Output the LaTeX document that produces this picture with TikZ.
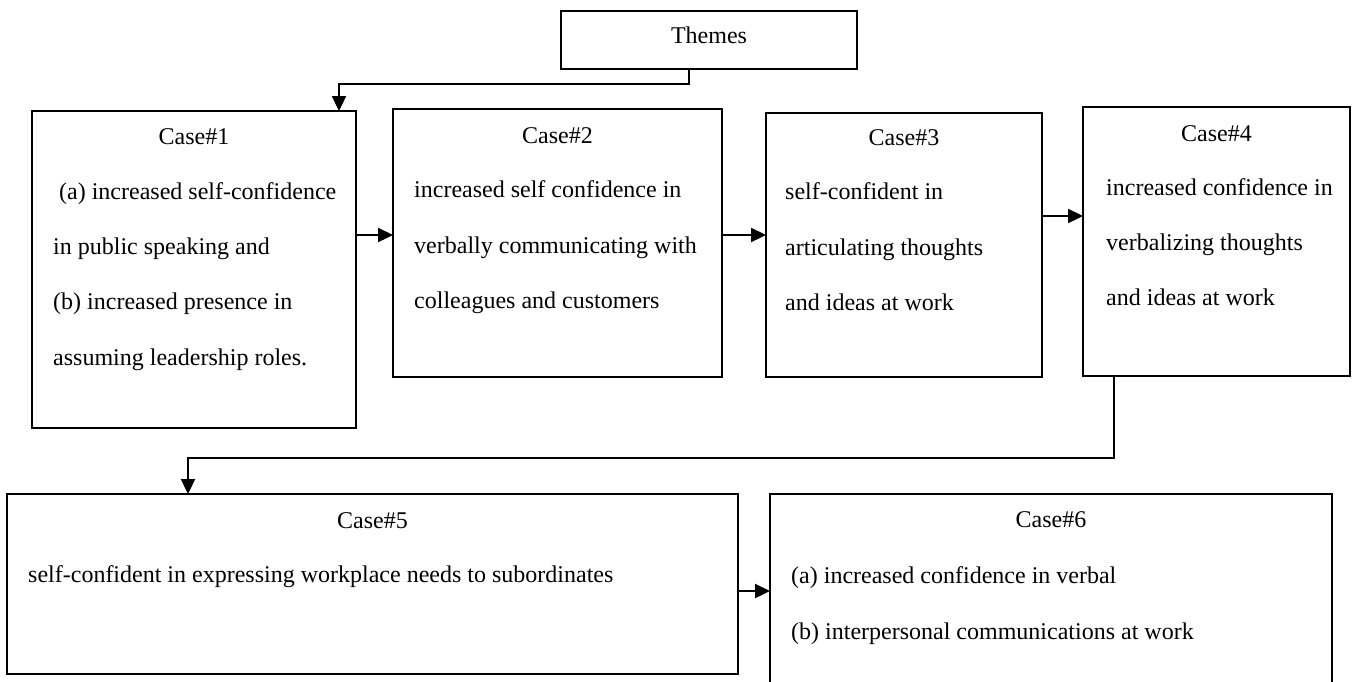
\documentclass[tikz,border=0pt]{standalone}
\usepackage{fontspec}
\setmainfont{Liberation Serif}
\usetikzlibrary{arrows.meta}
\begin{document}
\begin{tikzpicture}[x=1pt,y=-1pt,
  box/.style={draw, line width=1.7pt, rectangle, inner sep=0pt, outer sep=0pt},
  ttl/.style={anchor=base, inner sep=0pt, font=\fontsize{24}{28}\selectfont},
  txt/.style={anchor=base west, inner sep=0pt, font=\fontsize{24}{28}\selectfont},
  arr/.style={line width=2.3pt, -{Triangle[length=15pt,width=14pt]}}]
\clip (0,0) rectangle (1354,681);
\fill[white] (0,0) rectangle (1354,681);

% boxes
\node[box, minimum width=296pt, minimum height=58pt] (th) at (709,40) {};
\node[box, minimum width=324pt, minimum height=317pt] (c1) at (194,269.5) {};
\node[box, minimum width=329pt, minimum height=268pt] (c2) at (557.5,243) {};
\node[box, minimum width=276pt, minimum height=264pt] (c3) at (904,245) {};
\node[box, minimum width=267pt, minimum height=269pt] (c4) at (1216.5,241.5) {};
\node[box, minimum width=731pt, minimum height=180pt] (c5) at (372.5,584) {};
\node[box, minimum width=562pt, minimum height=200pt] (c6) at (1051,594) {};

% titles
\node[ttl] (tht) at (709,43) {Themes};
\node[ttl] (c1t) at (194,144) {Case\#1};
\node[ttl] (c2t) at (557.5,143) {Case\#2};
\node[ttl] (c3t) at (904,145) {Case\#3};
\node[ttl] (c4t) at (1216.5,141) {Case\#4};
\node[ttl] (c5t) at (372.5,528) {Case\#5};
\node[ttl] (c6t) at (1051,527) {Case\#6};

% case texts
\node[txt] (c1a) at (53,199) {\ (a) increased self-confidence};
\node[txt] (c1b) at (53,254) {in public speaking and};
\node[txt] (c1c) at (53,309) {(b) increased presence in};
\node[txt] (c1d) at (53,365) {assuming leadership roles.};

\node[txt] (c2a) at (414,197) {increased self confidence in};
\node[txt] (c2b) at (414,253) {verbally communicating with};
\node[txt] (c2c) at (414,308) {colleagues and customers};

\node[txt] (c3a) at (785,199) {self-confident in};
\node[txt] (c3b) at (785,255) {articulating thoughts};
\node[txt] (c3c) at (785,310) {and ideas at work};

\node[txt] (c4a) at (1106,195) {increased confidence in};
\node[txt] (c4b) at (1106,250) {verbalizing thoughts};
\node[txt] (c4c) at (1106,305) {and ideas at work};

\node[txt] (c5a) at (28,582) {self-confident in expressing workplace needs to subordinates};

\node[txt] (c6a) at (791,583) {(a) increased confidence in verbal};
\node[txt] (c6b) at (791,639) {(b) interpersonal communications at work};

% connector end points
\coordinate (t0) at ([xshift=-20pt]th.south);
\coordinate (t1) at ([xshift=145pt]c1.north);
\coordinate (a12) at ([yshift=34.5pt]c1.east);
\coordinate (a23) at ([yshift=8pt]c2.east);
\coordinate (a34) at ([yshift=29pt]c3.east);
\coordinate (d4) at ([xshift=-102.5pt]c4.south);
\coordinate (d5) at ([xshift=-184.5pt]c5.north);
\coordinate (a56) at ([yshift=-7pt]c5.east);

% connectors
\draw[arr] (t0) -- ++(0,15) -| (t1);
\draw[arr] (a12) -- (a12 -| c2.west);
\draw[arr] (a23) -- (a23 -| c3.west);
\draw[arr] (a34) -- (a34 -| c4.west);
\draw[arr] (d4) -- ++(0,82) -| (d5);
\draw[arr] (a56) -- (a56 -| c6.west);
\end{tikzpicture}
\end{document}
